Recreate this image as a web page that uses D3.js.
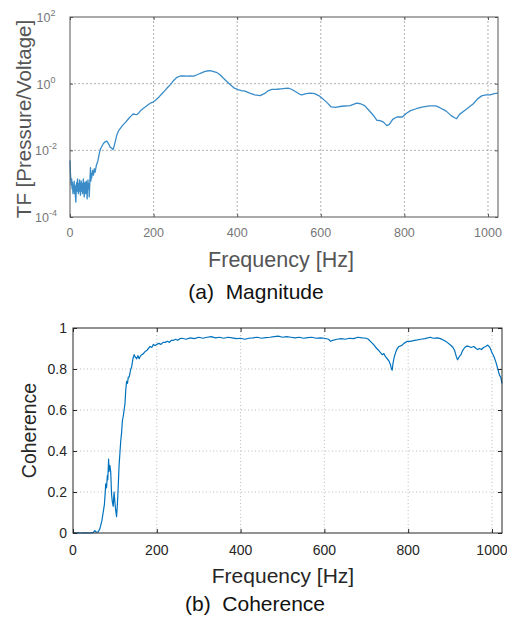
<!DOCTYPE html>
<html>
<head>
<meta charset="utf-8">
<script src="https://cdn.jsdelivr.net/npm/d3@7"></script>
<style>
  html, body { margin: 0; padding: 0; background: #fff; }
  svg { display: block; }
  text { font-family: "Liberation Sans", Arial, sans-serif; }
</style>
</head>
<body>
<svg id="chart" width="507" height="619"></svg>
<script>
// ---------- DATA ----------
const freqTicks = [0, 200, 400, 600, 800, 1000];
const magExpTicks = [-4, -2, 0, 2];
const cohTicks = [0, 0.2, 0.4, 0.6, 0.8, 1];
const cohTickLabels = ["0", "0.2", "0.4", "0.6", "0.8", "1"];

const magFreq = [0,1,2,3,4,5,6,7,8,9,10,11,12,13,14,15,16,17,18,19,20,21,22,23,24,25,26,27,28,29,30,31,32,33,34,35,36,37,38,39,40,41,42,43,44,45,46,47,48,49,50,51,52,54,56,58,60,63,67,70,73,76,80,84,88,92,96,100,103,106,109,112,116,120,124,127,132,137,142,147,151,156,160,165,170,175,180,186,192,199,206,213,220,227,234,241,248,256,264,272,280,288,296,304,312,320,328,335,342,350,359,366,374,383,392,402,410,419,430,442,455,465,475,483,495,505,515,522,530,540,550,555,565,575,585,595,605,615,625,635,650,670,686,695,705,715,725,734,742,750,758,764,772,782,795,805,815,830,845,860,875,885,900,912,920,925,932,945,955,965,975,985,995,1005,1015,1024];
const magValue = [5e-3,2.2e-3,1.3e-3,9e-4,1.4e-3,7e-4,1.1e-3,5e-4,8e-4,6e-4,1.2e-3,5e-4,9e-4,4e-4,2.8e-4,7e-4,1.1e-3,6e-4,1.4e-3,8e-4,5e-4,1.0e-3,6e-4,1.3e-3,7e-4,4.5e-4,9e-4,1.2e-3,6e-4,1.0e-3,5e-4,8e-4,1.4e-3,7e-4,4e-4,9e-4,1.1e-3,5e-4,8e-4,1.2e-3,6e-4,3.5e-4,9e-4,1.3e-3,7e-4,1.0e-3,4e-4,8e-4,1.6e-3,3e-3,1.2e-3,2e-3,1.5e-3,2.5e-3,1.8e-3,2.8e-3,2.2e-3,3.5e-3,5e-3,8e-3,1.1e-2,1.3e-2,1.6e-2,1.8e-2,1.9e-2,1.6e-2,1.25e-2,1.15e-2,1.05e-2,1.4e-2,2.0e-2,2.9e-2,3.8e-2,4.5e-2,5.2e-2,5.8e-2,6.8e-2,8e-2,9.5e-2,0.11,0.123,0.12,0.118,0.135,0.16,0.18,0.2,0.23,0.26,0.28,0.33,0.4,0.5,0.62,0.78,0.95,1.25,1.55,1.7,1.72,1.68,1.7,1.68,1.85,2.05,2.25,2.4,2.45,2.35,2.2,1.85,1.5,1.2,0.95,0.75,0.66,0.62,0.6,0.52,0.46,0.44,0.5,0.62,0.67,0.68,0.7,0.72,0.73,0.68,0.57,0.48,0.46,0.5,0.52,0.5,0.44,0.35,0.27,0.2,0.195,0.21,0.22,0.26,0.25,0.22,0.16,0.115,0.08,0.078,0.07,0.055,0.06,0.085,0.1,0.1,0.13,0.155,0.18,0.2,0.215,0.215,0.19,0.15,0.11,0.095,0.09,0.12,0.16,0.2,0.25,0.35,0.43,0.46,0.46,0.5,0.52];

const cohFreq = [0,10,20,30,40,48,52,55,60,64,69,72,75,77,78,80,82,83,85,86,88,90,92,94,96,98,100,102,104,106,108,110,112,114,116,118,120,122,124,126,128,130,132,134,136,138,140,143,146,148,150,152,155,158,160,164,168,172,176,180,184,188,192,196,200,205,210,215,220,225,230,235,240,245,250,255,260,270,280,290,300,310,320,330,340,350,360,370,380,390,400,410,420,430,440,450,460,470,480,490,500,510,520,530,540,550,560,570,580,590,600,610,615,620,630,640,650,660,670,680,690,700,705,710,717,725,730,734,738,742,746,750,754,758,760,762,764,767,770,774,778,785,790,798,805,815,822,830,840,853,860,870,877,885,893,901,907,911,915,918,922,926,930,935,940,945,950,957,962,966,970,975,980,985,990,995,1000,1005,1010,1014,1018,1021,1024];
const cohValue = [0,0.001,0,0.001,0,0.002,0.012,0.004,0.005,0.02,0.06,0.1,0.14,0.2,0.24,0.22,0.28,0.26,0.36,0.3,0.33,0.3,0.19,0.15,0.13,0.2,0.15,0.11,0.08,0.14,0.23,0.33,0.39,0.45,0.49,0.55,0.57,0.6,0.63,0.7,0.74,0.73,0.76,0.76,0.78,0.8,0.81,0.85,0.87,0.86,0.855,0.85,0.865,0.85,0.86,0.87,0.875,0.885,0.89,0.9,0.91,0.905,0.92,0.915,0.92,0.925,0.92,0.93,0.93,0.935,0.93,0.94,0.94,0.945,0.94,0.948,0.95,0.945,0.952,0.948,0.955,0.95,0.955,0.958,0.952,0.955,0.95,0.955,0.952,0.948,0.95,0.945,0.95,0.952,0.955,0.95,0.953,0.955,0.958,0.96,0.955,0.958,0.955,0.952,0.955,0.95,0.953,0.955,0.95,0.952,0.95,0.945,0.935,0.94,0.945,0.948,0.945,0.95,0.948,0.955,0.952,0.95,0.945,0.935,0.92,0.9,0.89,0.88,0.87,0.875,0.86,0.85,0.84,0.82,0.8,0.795,0.83,0.86,0.88,0.9,0.91,0.915,0.925,0.935,0.935,0.94,0.942,0.945,0.948,0.955,0.95,0.952,0.948,0.94,0.93,0.917,0.905,0.89,0.86,0.845,0.86,0.87,0.89,0.905,0.912,0.91,0.905,0.91,0.9,0.895,0.9,0.895,0.905,0.91,0.917,0.905,0.88,0.86,0.83,0.8,0.77,0.76,0.73];

// ---------- DRAW ----------
const svg = d3.select("#chart");

// ===== Top: Magnitude =====
(function () {
  const L = 70, T = 17, W = 428, H = 200;
  const x = d3.scaleLinear().domain([0, 1024]).range([L, L + W]);
  const y = d3.scaleLog().domain([1e-4, 1e2]).range([T + H, T]);
  const g = svg.append("g");

  g.selectAll(".gx").data(freqTicks.filter(d => d > 0)).join("line")
    .attr("x1", d => x(d)).attr("x2", d => x(d)).attr("y1", T).attr("y2", T + H)
    .attr("stroke", "#9a9a9a").attr("stroke-width", 0.8).attr("stroke-dasharray", "2,2");
  g.selectAll(".gy").data(magExpTicks.filter(e => e > -4 && e < 2)).join("line")
    .attr("y1", e => y(Math.pow(10, e))).attr("y2", e => y(Math.pow(10, e)))
    .attr("x1", L).attr("x2", L + W)
    .attr("stroke", "#9a9a9a").attr("stroke-width", 0.8).attr("stroke-dasharray", "2,2");

  const line = d3.line().x((d, i) => x(magFreq[i])).y(d => y(d));
  g.append("path").datum(magValue).attr("d", line)
    .attr("fill", "none").attr("stroke", "#3a8cc8").attr("stroke-width", 1.3)
    .attr("stroke-linejoin", "round");

  g.append("rect").attr("x", L).attr("y", T).attr("width", W).attr("height", H)
    .attr("fill", "none").attr("stroke", "#555").attr("stroke-width", 1);

  const tk = s => { s.select(".domain").remove(); s.selectAll("line").attr("stroke", "#555"); };
  g.append("g").attr("transform", `translate(0,${T + H})`)
    .call(d3.axisBottom(x).tickValues(freqTicks).tickSize(-3).tickFormat("")).call(tk);
  g.append("g").attr("transform", `translate(0,${T})`)
    .call(d3.axisTop(x).tickValues(freqTicks).tickSize(-3).tickFormat("")).call(tk);
  const yVals = magExpTicks.map(e => Math.pow(10, e));
  g.append("g").attr("transform", `translate(${L},0)`)
    .call(d3.axisLeft(y).tickValues(yVals).tickSize(-3).tickFormat("")).call(tk);
  g.append("g").attr("transform", `translate(${L + W},0)`)
    .call(d3.axisRight(y).tickValues(yVals).tickSize(-3).tickFormat("")).call(tk);

  g.selectAll(".xl").data(freqTicks).join("text")
    .attr("x", d => x(d)).attr("y", T + H + 20)
    .attr("text-anchor", "middle").attr("font-size", 12.5).attr("fill", "#777")
    .text(d => d);
  const yl = g.selectAll(".yl").data(magExpTicks).join("text")
    .attr("x", L - 24).attr("y", e => y(Math.pow(10, e)) + 5)
    .attr("text-anchor", "middle").attr("font-size", 12.5).attr("fill", "#777");
  yl.append("tspan").text("10");
  yl.append("tspan").attr("dy", -6).attr("font-size", 9).text(e => e);

  g.append("text").attr("x", 281).attr("y", 267)
    .attr("text-anchor", "middle").attr("font-size", 21.5).attr("fill", "#555")
    .text("Frequency [Hz]");
  g.append("text").attr("transform", `translate(31,${T + H / 2 + 2}) rotate(-90)`)
    .attr("text-anchor", "middle").attr("font-size", 20.5).attr("fill", "#555")
    .text("TF [Pressure/Voltage]");
  g.append("text").attr("x", 256).attr("y", 299)
    .attr("text-anchor", "middle").attr("font-size", 21).attr("fill", "#111")
    .attr("xml:space", "preserve")
    .text("(a)  Magnitude");
})();

// ===== Bottom: Coherence =====
(function () {
  const L = 73, T = 328, W = 429, H = 205;
  const x = d3.scaleLinear().domain([0, 1024]).range([L, L + W]);
  const y = d3.scaleLinear().domain([0, 1]).range([T + H, T]);
  const g = svg.append("g");

  g.selectAll(".gx").data(freqTicks.filter(d => d > 0)).join("line")
    .attr("x1", d => x(d)).attr("x2", d => x(d)).attr("y1", T).attr("y2", T + H)
    .attr("stroke", "#aaa").attr("stroke-width", 0.8).attr("stroke-dasharray", "1,2.5");
  g.selectAll(".gy").data(cohTicks.filter(d => d > 0 && d < 1)).join("line")
    .attr("y1", d => y(d)).attr("y2", d => y(d)).attr("x1", L).attr("x2", L + W)
    .attr("stroke", "#aaa").attr("stroke-width", 0.8).attr("stroke-dasharray", "1,2.5");

  const line = d3.line().x((d, i) => x(cohFreq[i])).y(d => y(d));
  g.append("path").datum(cohValue).attr("d", line)
    .attr("fill", "none").attr("stroke", "#0072BD").attr("stroke-width", 1.2)
    .attr("stroke-linejoin", "round");

  g.append("rect").attr("x", L).attr("y", T).attr("width", W).attr("height", H)
    .attr("fill", "none").attr("stroke", "#262626").attr("stroke-width", 1);

  const tk = s => { s.select(".domain").remove(); s.selectAll("line").attr("stroke", "#262626"); };
  g.append("g").attr("transform", `translate(0,${T + H})`)
    .call(d3.axisBottom(x).tickValues(freqTicks).tickSize(-4).tickFormat("")).call(tk);
  g.append("g").attr("transform", `translate(0,${T})`)
    .call(d3.axisTop(x).tickValues(freqTicks).tickSize(-4).tickFormat("")).call(tk);
  g.append("g").attr("transform", `translate(${L},0)`)
    .call(d3.axisLeft(y).tickValues(cohTicks).tickSize(-4).tickFormat("")).call(tk);
  g.append("g").attr("transform", `translate(${L + W},0)`)
    .call(d3.axisRight(y).tickValues(cohTicks).tickSize(-4).tickFormat("")).call(tk);

  g.selectAll(".xl").data(freqTicks).join("text")
    .attr("x", d => x(d)).attr("y", T + H + 22)
    .attr("text-anchor", "middle").attr("font-size", 14).attr("fill", "#262626")
    .text(d => d);
  g.selectAll(".yl").data(cohTicks).join("text")
    .attr("x", L - 6).attr("y", d => y(d) + 5)
    .attr("text-anchor", "end").attr("font-size", 14).attr("fill", "#262626")
    .text((d, i) => cohTickLabels[i]);

  g.append("text").attr("x", 283).attr("y", 583)
    .attr("text-anchor", "middle").attr("font-size", 21).attr("fill", "#262626")
    .text("Frequency [Hz]");
  g.append("text").attr("transform", `translate(36,${T + H / 2}) rotate(-90)`)
    .attr("text-anchor", "middle").attr("font-size", 19.5).attr("fill", "#262626")
    .text("Coherence");
  g.append("text").attr("x", 255).attr("y", 611)
    .attr("text-anchor", "middle").attr("font-size", 21).attr("fill", "#111")
    .attr("xml:space", "preserve")
    .text("(b)  Coherence");
})();
</script>
</body>
</html>
